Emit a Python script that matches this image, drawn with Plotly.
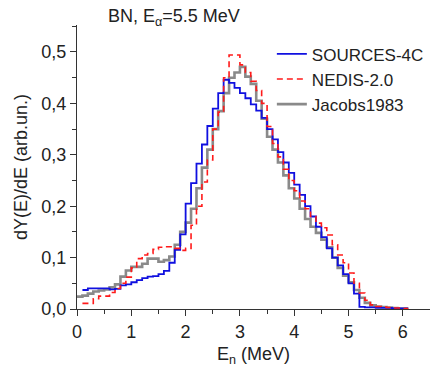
import plotly.graph_objects as go

# ---------------- data (0.1 MeV bins, value per bin) ----------------
bin_width = 0.1

sources_start = 0.1
sources_4c = [0.037, 0.040, 0.040, 0.040, 0.040, 0.038, 0.039, 0.046, 0.048, 0.052,
              0.056, 0.060, 0.063, 0.064, 0.068, 0.074, 0.090, 0.115, 0.145, 0.205,
              0.245, 0.283, 0.320, 0.356, 0.390, 0.420, 0.446, 0.440, 0.430, 0.420,
              0.410, 0.398, 0.386, 0.372, 0.350, 0.330, 0.305, 0.285, 0.265, 0.242,
              0.222, 0.200, 0.180, 0.160, 0.140, 0.118, 0.100, 0.085, 0.068, 0.050,
              0.030, 0.004, 0.003, 0.003, 0.002, 0.002, 0.002, 0.001, 0.001, 0.001]

nedis_start = 0.1
nedis_20 = [0.011, 0.011, 0.020, 0.025, 0.025, 0.032, 0.040, 0.050, 0.062, 0.080,
            0.098, 0.105, 0.108, 0.116, 0.120, 0.121, 0.121, 0.118, 0.114, 0.118,
            0.163, 0.200, 0.247, 0.290, 0.350, 0.383, 0.450, 0.494, 0.494, 0.475,
            0.460, 0.443, 0.425, 0.400, 0.355, 0.322, 0.296, 0.272, 0.250, 0.230,
            0.210, 0.195, 0.180, 0.167, 0.158, 0.144, 0.125, 0.105, 0.090, 0.070,
            0.050, 0.031, 0.017, 0.008, 0.005, 0.004, 0.003, 0.002, 0.002, 0.001]

jacobs_start = 0.0
jacobs_1983 = [0.024, 0.026, 0.030, 0.034, 0.036, 0.038, 0.042, 0.048, 0.063, 0.075,
               0.082, 0.082, 0.088, 0.098, 0.098, 0.092, 0.095, 0.102, 0.125, 0.150,
               0.168, 0.195, 0.235, 0.275, 0.310, 0.350, 0.385, 0.420, 0.450, 0.460,
               0.471, 0.452, 0.438, 0.405, 0.370, 0.335, 0.310, 0.285, 0.260, 0.235,
               0.215, 0.195, 0.175, 0.160, 0.148, 0.135, 0.120, 0.100, 0.080, 0.065,
               0.052, 0.037, 0.022, 0.012, 0.007, 0.005, 0.004, 0.003, 0.002, 0.001,
               0.001]

x_ticks = [0, 1, 2, 3, 4, 5, 6]
y_ticks = [0.0, 0.1, 0.2, 0.3, 0.4, 0.5]

FONT = "Liberation Sans, Arial, sans-serif"
FS = 18


def steps(start, vals):
    xs = [round(start + bin_width * i, 3) for i in range(len(vals) + 1)]
    ys = list(vals) + [vals[-1]]
    return xs, ys


fig = go.Figure()

xj, yj = steps(jacobs_start, jacobs_1983)
xs, ys = steps(sources_start, sources_4c)
xn, yn = steps(nedis_start, nedis_20)

fig.add_trace(go.Scatter(x=xj, y=yj, mode="lines", line_shape="hv", name="Jacobs1983",
                         line=dict(color="#8a8a8a", width=2.6), legendrank=3))
fig.add_trace(go.Scatter(x=xs, y=ys, mode="lines", line_shape="hv", name="SOURCES-4C",
                         line=dict(color="#1010e0", width=1.8), legendrank=1))
fig.add_trace(go.Scatter(x=xn, y=yn, mode="lines", line_shape="hv", name="NEDIS-2.0",
                         line=dict(color="#ff1a1a", width=1.6, dash="6px,4px"), legendrank=2))

axis_common = dict(showgrid=False, zeroline=False, showline=True, linecolor="#333333",
                   linewidth=1.3, ticks="outside", tickcolor="#333333", tickwidth=1.2,
                   ticklen=6, tickfont=dict(family=FONT, size=FS, color="#222222"))

fig.update_xaxes(range=[0, 6.5], tickvals=x_ticks, **axis_common,
                 minor=dict(ticks="outside", ticklen=4, dtick=0.5, tick0=0,
                            tickcolor="#333333", tickwidth=1.2),
                 title=dict(text="E<sub>n</sub> (MeV)",
                            font=dict(family=FONT, size=FS, color="#222222"), standoff=6))
fig.update_yaxes(range=[0, 0.5525], tickvals=y_ticks, tickformat=".1f", **axis_common,
                 minor=dict(ticks="outside", ticklen=4, dtick=0.05, tick0=0,
                            tickcolor="#333333", tickwidth=1.2),
                 title=dict(text="dY(E)/dE (arb.un.)",
                            font=dict(family=FONT, size=FS, color="#222222"), standoff=8))

fig.add_annotation(text="BN, E<sub>α</sub>=5.5 MeV", xref="paper", yref="paper",
                   x=0.082, y=1.025, xanchor="left", yanchor="middle", showarrow=False,
                   font=dict(family=FONT, size=FS, color="#222222"))

fig.update_layout(
    width=430, height=372,
    margin=dict(l=77, r=0, t=25, b=63, autoexpand=False),
    paper_bgcolor="white", plot_bgcolor="white",
    separators=", ",
    showlegend=True,
    legend=dict(x=0.552, y=0.96, xanchor="left", yanchor="top",
                font=dict(family=FONT, size=17, color="#222222"),
                bgcolor="rgba(0,0,0,0)", borderwidth=0, tracegroupgap=0,
                itemwidth=30),
)

fig.write_html("out.html")
